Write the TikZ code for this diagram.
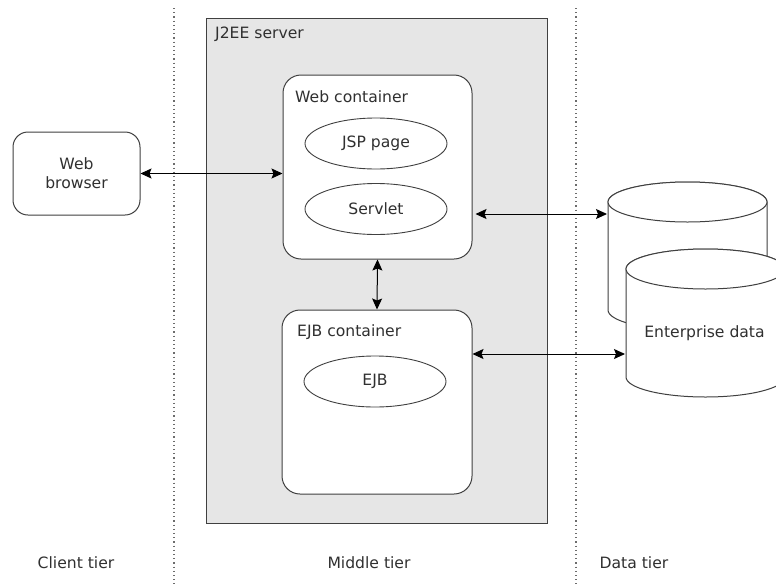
\documentclass[tikz,border=0pt]{standalone}
\usepackage{fontspec}
\setmainfont{DejaVu Sans}
\usetikzlibrary{arrows.meta,shapes.geometric}
\definecolor{linec}{HTML}{404040}
\definecolor{serverfill}{HTML}{E6E6E6}
\definecolor{textc}{HTML}{303030}
\tikzset{
  every node/.style={font=\fontsize{15.6}{18}\selectfont, text=textc},
  tierline/.style={draw=gray!85!black, line width=1.4pt, dash pattern=on 1.2pt off 3pt},
  serverbox/.style={draw=linec, line width=1pt, fill=serverfill},
  containerbox/.style={draw=linec, line width=1pt, fill=white, rounded corners=18pt, inner sep=0pt},
  comp/.style={ellipse, draw=linec, line width=0.9pt, fill=white, minimum width=142pt, minimum height=51pt, inner sep=0pt},
  cyl/.style={draw=linec, line width=1pt, fill=white},
  link/.style={line width=1pt, black, {Stealth[length=11pt,width=10pt,inset=2pt]}-{Stealth[length=11pt,width=10pt,inset=2pt]}},
  label/.style={anchor=west, inner sep=0pt}
}
\begin{document}
\begin{tikzpicture}[x=1pt,y=1pt]
\useasboundingbox (0,0) rectangle (776,-584);
\fill[white] (0,0) rectangle (776,-584);
% tier separators
\coordinate (s1t) at (174,-8);
\coordinate (s1b) at (174,-584);
\coordinate (s2t) at (576,-8);
\coordinate (s2b) at (576,-584);
\draw[tierline] (s1t) -- (s1b);
\draw[tierline] (s2t) -- (s2b);
% J2EE server
\node[serverbox, minimum width=341pt, minimum height=505pt, inner sep=0pt] (server) at (376.5,-270.5) {};
\node[label] (serverlbl) at (215,-34) {J2EE server};
% web container
\node[containerbox, minimum width=189pt, minimum height=184pt] (web) at (377.5,-167) {};
\node[label] (weblbl) at (295,-97) {Web container};
\node[comp] (jsp) at (376,-143.5) {JSP page};
\node[comp] (servlet) at (376,-209) {Servlet};
% EJB container
\node[containerbox, minimum width=190pt, minimum height=184pt] (ejbc) at (377,-402) {};
\node[label] (ejblbl) at (297,-332) {EJB container};
\node[comp] (ejb) at (375,-381.5) {EJB};
% web browser
\node[containerbox, rounded corners=15pt, minimum width=127pt, minimum height=83pt, align=center, font=\fontsize{15.6}{19}\selectfont] (browser) at (76.5,-173.5) {Web\\browser};
% back cylinder
\draw[cyl] (608,-202) -- (608,-310) arc[start angle=180,end angle=360,x radius=79.5,y radius=20] -- (767,-202) arc[start angle=0,end angle=180,x radius=79.5,y radius=20] -- cycle;
\draw[cyl] (687.5,-202) ellipse[x radius=79.5,y radius=20];
% front cylinder
\draw[cyl] (626,-269) -- (626,-377) arc[start angle=180,end angle=360,x radius=79.5,y radius=20] -- (785,-269) arc[start angle=0,end angle=180,x radius=79.5,y radius=20] -- cycle;
\draw[cyl] (705.5,-269) ellipse[x radius=79.5,y radius=20];
\node (data) at (704.5,-333) {Enterprise data};
\coordinate (backcyl) at (607,-214);
\coordinate (frontcyl) at (625,-354);
% connectors
\draw[link] (browser.east) -- (browser.east -| web.west);
\draw[link] (web.south) -- (ejbc.north);
\draw[link] ([xshift=3pt]web.east |- backcyl) -- (backcyl);
\draw[link] (ejbc.east |- frontcyl) -- (frontcyl);
% tier labels
\node (client) at (76,-563) {Client tier};
\node (middle) at (369,-563) {Middle tier};
\node (datatier) at (634,-563) {Data tier};
\end{tikzpicture}
\end{document}
